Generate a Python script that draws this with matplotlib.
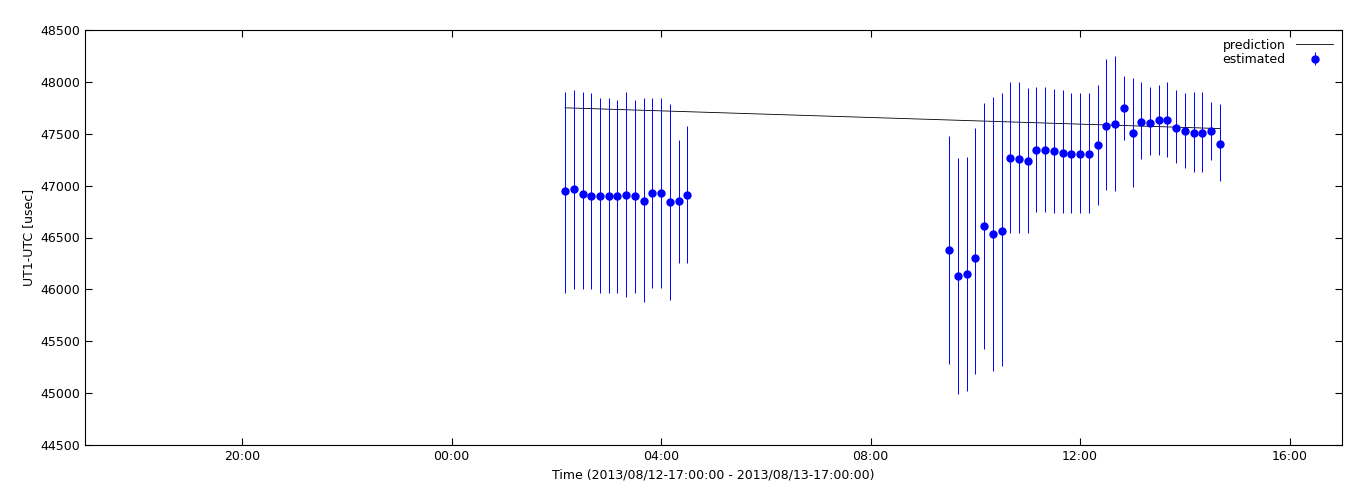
import datetime as dt

import matplotlib.dates as mdates
import matplotlib.pyplot as plt

plt.rcParams["font.family"] = "DejaVu Sans"
plt.rcParams["font.size"] = 9

START = dt.datetime(2013, 8, 12, 17, 0)
END = dt.datetime(2013, 8, 13, 17, 0)

# first session: every 10 min from 02:10
s1_start = dt.datetime(2013, 8, 13, 2, 10)
s1_values = [46948, 46968, 46919, 46900, 46900, 46900, 46900, 46910, 46900, 46852,
             46929, 46929, 46842, 46852, 46910]
s1_err_hi = [954, 954, 983, 993, 945, 945, 925, 993, 925, 993, 916, 916, 945, 588, 665]
s1_err_lo = [983, 964, 916, 897, 935, 935, 935, 983, 935, 974, 916, 916, 945, 598, 655]

# second session: every 10 min from 09:30
s2_start = dt.datetime(2013, 8, 13, 9, 30)
s2_values = [46380, 46130, 46150, 46302, 46611, 46534, 46563, 47266, 47257, 47237,
             47343, 47343, 47334, 47314, 47305, 47305, 47305, 47392, 47575, 47594,
             47748, 47507, 47613, 47604, 47632, 47632, 47555, 47526, 47507, 47507,
             47526, 47401]
s2_err_hi = [1100, 1140, 1130, 1253, 1186, 1321, 1330, 733, 742, 704, 607, 607, 598, 607,
             588, 588, 588, 578, 646, 656, 308, 530, 386, 347, 337, 366, 366, 366, 395,
             395, 280, 386]
s2_err_lo = [1100, 1140, 1130, 1118, 1186, 1321, 1301, 723, 713, 694, 598, 598, 598, 578,
             569, 569, 569, 578, 617, 646, 308, 521, 357, 308, 337, 357, 337, 357, 376,
             376, 280, 357]

pred_times = [dt.datetime(2013, 8, 13, 2, 10), dt.datetime(2013, 8, 13, 14, 40)]
pred_values = [47750, 47550]

t1 = [s1_start + dt.timedelta(minutes=10 * i) for i in range(len(s1_values))]
t2 = [s2_start + dt.timedelta(minutes=10 * i) for i in range(len(s2_values))]

fig = plt.figure(figsize=(13.68, 5.04), dpi=100)
ax = fig.add_axes([85 / 1368, 1 - 445 / 504, 1257 / 1368, 415 / 504])

ax.plot(pred_times, pred_values, color="black", lw=0.6, label="prediction")
ax.errorbar(t1 + t2, s1_values + s2_values,
            yerr=[s1_err_lo + s2_err_lo, s1_err_hi + s2_err_hi],
            fmt="o", color="#0000ff", ms=5, elinewidth=0.7, capsize=0,
            lw=0.7, label="estimated")

ax.set_xlim(START, END)
ax.set_ylim(44500, 48500)
ax.set_yticks(range(44500, 48501, 500))
ax.xaxis.set_major_locator(mdates.HourLocator(byhour=[0, 4, 8, 12, 16, 20]))
ax.xaxis.set_major_formatter(mdates.DateFormatter("%H:%M"))
ax.tick_params(direction="in", length=5, top=True, right=True)
ax.set_xlabel("Time (2013/08/12-17:00:00 - 2013/08/13-17:00:00)")
ax.set_ylabel("UT1-UTC [usec]")

ax.legend(loc="upper right", frameon=False, markerfirst=False, handlelength=3,
          borderaxespad=0.3, labelspacing=0.1)

fig.savefig("out.png", dpi=100)
